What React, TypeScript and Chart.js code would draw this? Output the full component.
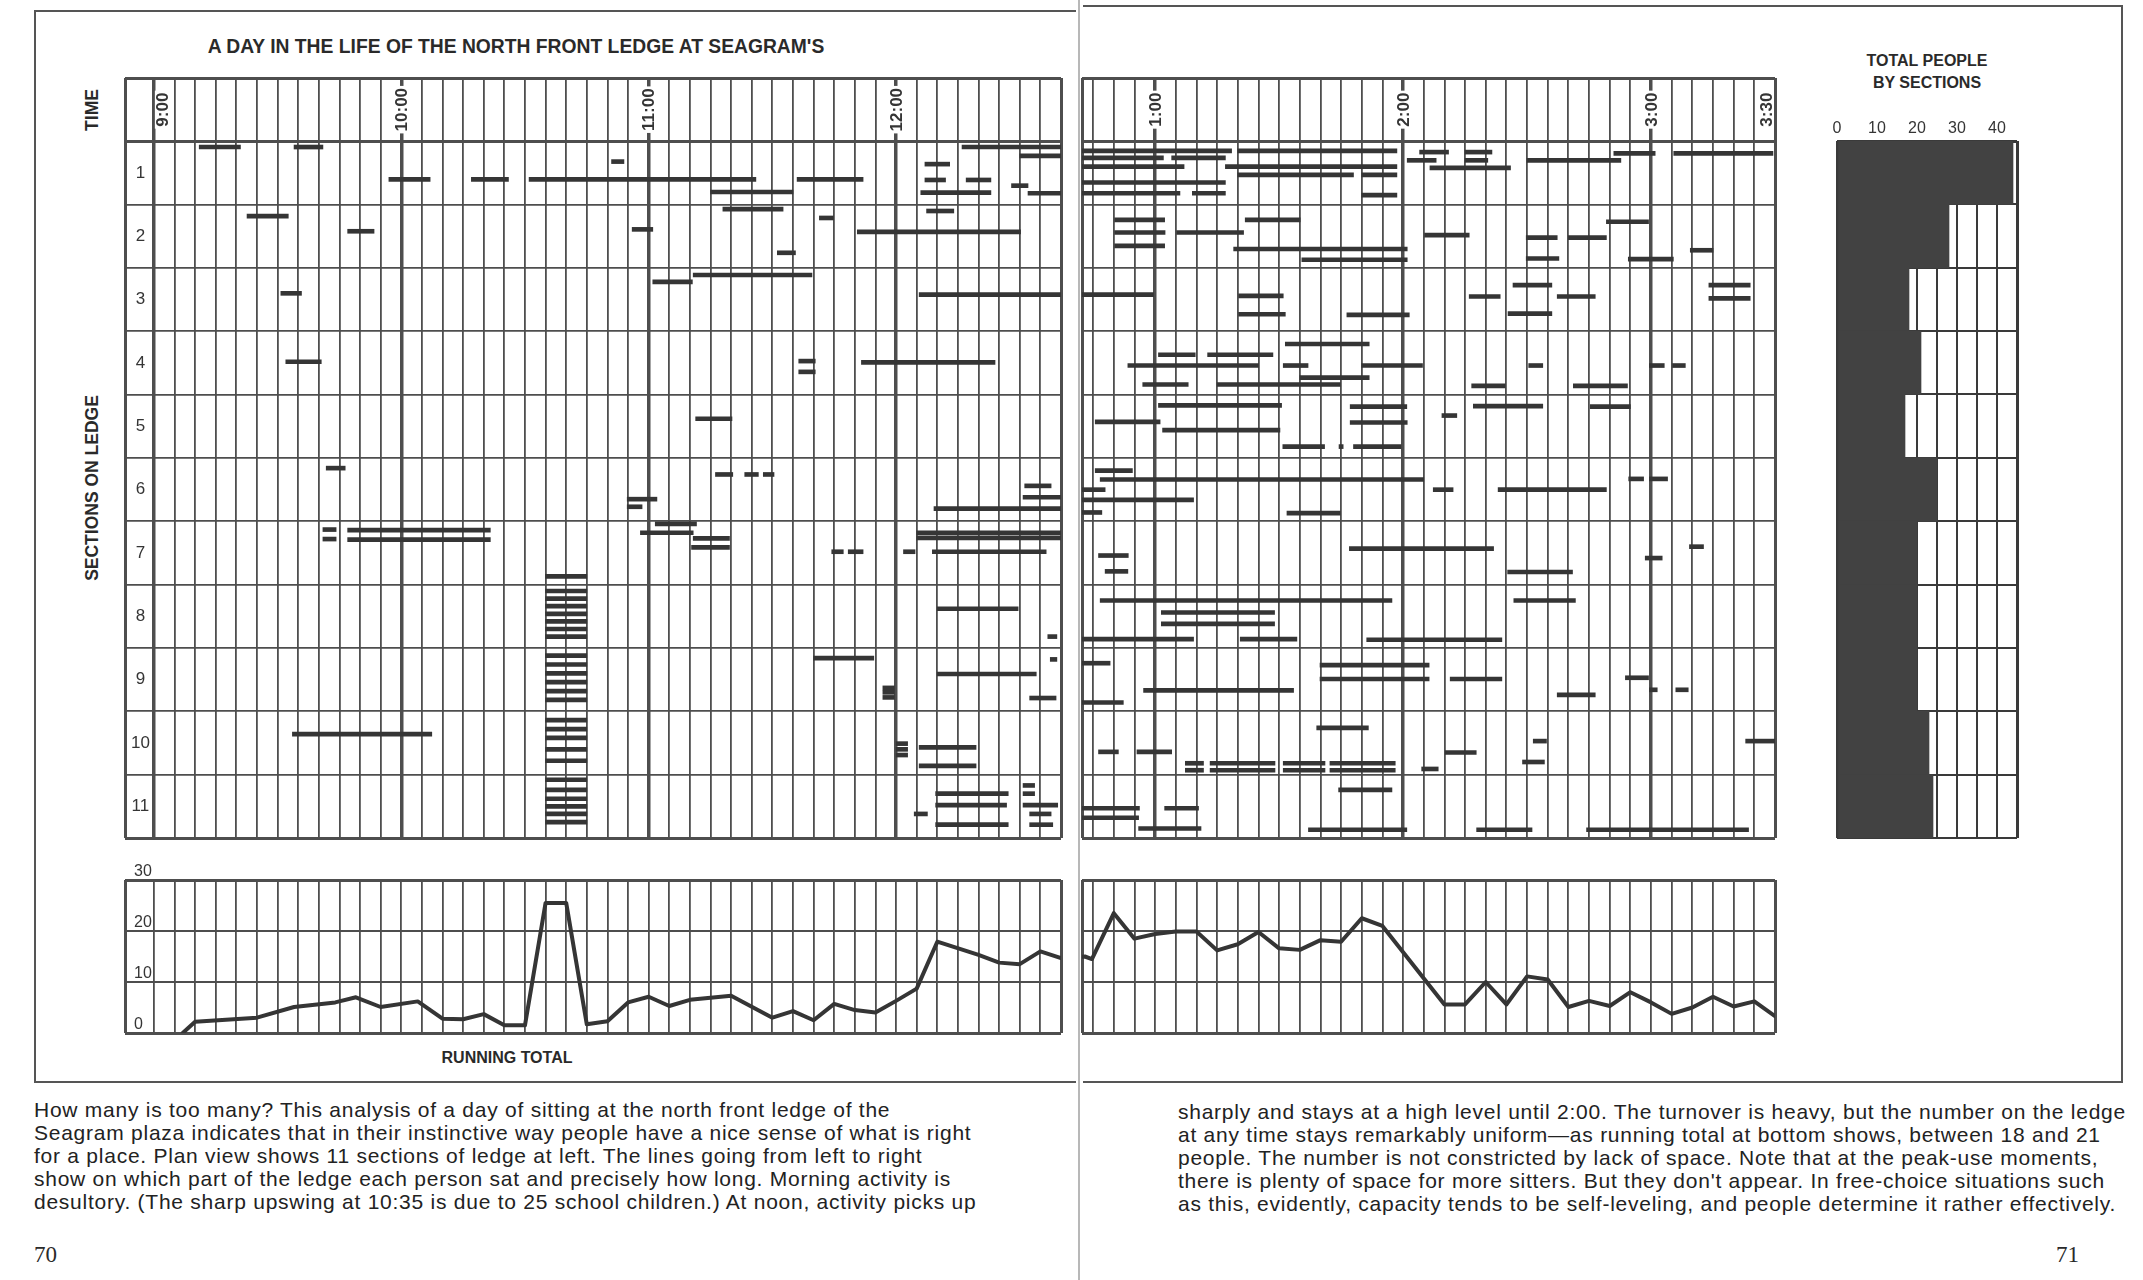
import React, { useEffect, useRef } from 'react';
import { Chart, registerables } from 'chart.js';

Chart.register(...registerables);

// ---------------- data ----------------
// times are minutes after 9:00 a.m.; lane = position of the sitter inside the section (0 top .. 1 bottom)
const hourValuesAM = [0, 60, 120, 180];
const hourLabelsAM = ['9:00', '10:00', '11:00', '12:00'];
const hourValuesPM = [240, 300, 360, 390];
const hourLabelsPM = ['1:00', '2:00', '3:00', '3:30'];
const sectionNames = ['1', '2', '3', '4', '5', '6', '7', '8', '9', '10', '11'];

// [start, end, lane]
const section1 = [
  [11, 21, 0.09], [34, 41, 0.09], [57, 67, 0.6], [77, 86, 0.6], [91, 146, 0.6], [111, 114, 0.32], [135, 155, 0.8],
  [156, 172, 0.6], [187, 193, 0.36], [187, 192, 0.61], [186, 203, 0.81], [197, 203, 0.61], [196, 220, 0.09],
  [208, 212, 0.7], [210, 220, 0.23], [212, 220, 0.82],
  [222, 258.5, 0.15], [260, 298.5, 0.15], [222, 242, 0.26], [244, 257, 0.26], [222, 247, 0.4], [257, 298.5, 0.4],
  [260, 288, 0.53], [290, 298.5, 0.53], [222, 257, 0.65], [222, 246, 0.82], [249, 257, 0.82], [290, 298.5, 0.85],
  [301, 308, 0.3], [304, 311, 0.17], [315, 321.5, 0.17], [315, 320.5, 0.3], [306.5, 326, 0.42], [330, 352.7, 0.3],
  [351, 361, 0.19], [365.5, 389.5, 0.19],
];
const section2 = [
  [22.6, 32.6, 0.18], [47, 53.4, 0.42], [116, 121, 0.39], [138, 152.6, 0.07], [151.2, 155.6, 0.76], [161.4, 164.8, 0.21],
  [170.6, 210.2, 0.43], [187.4, 194, 0.1],
  [230.2, 242.3, 0.24], [230.2, 242.4, 0.44], [230.2, 242.3, 0.65], [245.2, 261.4, 0.44], [261.8, 275.1, 0.24],
  [259, 301, 0.7], [275.5, 301, 0.87], [305.2, 316, 0.48], [329.8, 337.3, 0.52], [340, 349.2, 0.52],
  [349.2, 359.4, 0.27], [329.8, 337.7, 0.85], [354.5, 365.4, 0.86], [369.5, 375, 0.72],
];
const section3 = [
  [30.8, 35.8, 0.4], [121, 130.6, 0.22], [130.8, 159.6, 0.11], [185.6, 239.6, 0.42],
  [260.2, 271, 0.44], [260.2, 271.5, 0.73], [286.4, 301.5, 0.74], [316, 323.5, 0.45], [326.6, 336, 0.27],
  [337.3, 346.5, 0.45], [325.4, 336, 0.72], [374, 384, 0.27], [374, 384, 0.48],
];
const section4 = [
  [32, 40.6, 0.48], [156.4, 160.4, 0.47], [156.4, 160.4, 0.64], [171.6, 204, 0.49],
  [233.4, 265, 0.54], [237, 248, 0.84], [240.8, 249.7, 0.37], [252.7, 268.5, 0.37], [255, 284.8, 0.84],
  [271, 277, 0.54], [271.5, 291.8, 0.2], [275, 291.8, 0.73], [290, 304.7, 0.54], [316.6, 324.7, 0.86],
  [330.4, 333.8, 0.54], [341.2, 354.3, 0.86], [359.6, 363.2, 0.54], [365.2, 368.3, 0.54],
];
const section5 = [
  [131.4, 140.2, 0.38],
  [225.5, 241.2, 0.43], [240.8, 270.6, 0.17], [241.8, 270.2, 0.56], [270.9, 281, 0.82], [284.5, 285.5, 0.82],
  [287.2, 300.9, 0.19], [287.2, 301, 0.44], [288, 299.5, 0.82], [309.4, 313, 0.33], [317, 333.8, 0.18],
  [345.3, 355, 0.19],
];
const section6 = [
  [41.8, 46.4, 0.16], [114.8, 122, 0.65], [114.8, 118.4, 0.77], [136.2, 140.4, 0.26], [143.3, 146.6, 0.26],
  [147.8, 150.4, 0.26], [189.2, 220, 0.8], [210.8, 220, 0.62], [211.2, 217.6, 0.44],
  [222, 227.9, 0.5], [222, 249.3, 0.66], [222, 227.1, 0.86], [225.5, 234.5, 0.2], [226.7, 305, 0.34],
  [271.9, 284.8, 0.87], [307.3, 312.1, 0.5], [323, 349.2, 0.5], [354.6, 358.2, 0.33], [359.6, 364, 0.33],
];
const section7 = [
  [41, 44.2, 0.13], [41, 44.2, 0.28], [47, 81.6, 0.14], [47, 81.6, 0.29], [118, 130.8, 0.18], [121.6, 131.6, 0.04],
  [130.8, 139.6, 0.27], [130.4, 139.6, 0.41], [164.4, 167.2, 0.48], [168.4, 172, 0.48], [181.8, 184.6, 0.48],
  [185, 220, 0.18], [185, 220, 0.26], [188.8, 216.4, 0.48], [95, 105, 0.87],
  [226.3, 233.5, 0.54], [227.9, 233.4, 0.79], [287, 321.9, 0.43], [325.3, 341, 0.8], [358.6, 362.7, 0.58],
  [369.3, 372.7, 0.4],
];
const section8 = [
  [95, 105, 0.1], [95, 105, 0.22], [95, 105, 0.34], [95, 105, 0.46], [95, 105, 0.58], [95, 105, 0.7], [95, 105, 0.82],
  [190, 209.6, 0.38], [216.8, 219, 0.82],
  [222, 249.3, 0.86], [226.7, 297.3, 0.25], [241.5, 268.9, 0.44], [241.5, 268.9, 0.62], [260.6, 274.3, 0.86],
  [291.2, 323.9, 0.87], [326.8, 341.7, 0.25],
];
const section9 = [
  [95, 105, 0.12], [95, 105, 0.26], [95, 105, 0.4], [95, 105, 0.54], [95, 105, 0.68], [95, 105, 0.82],
  [160, 174.6, 0.16], [176.8, 179.6, 0.63], [176.8, 179.6, 0.7], [176.8, 179.6, 0.78], [190, 214, 0.41],
  [212.4, 218.8, 0.79], [217.4, 219, 0.18],
  [222, 229.1, 0.24], [222, 232.3, 0.86], [237.2, 273.5, 0.67], [279.9, 306.3, 0.27], [279.9, 306.3, 0.49],
  [311.4, 323.9, 0.49], [337.3, 346.5, 0.74], [353.8, 359.4, 0.47], [359.6, 361.5, 0.66], [366, 369, 0.66],
];
const section10 = [
  [33.6, 67.4, 0.36], [95, 105, 0.14], [95, 105, 0.28], [95, 105, 0.42], [95, 105, 0.6], [95, 105, 0.78],
  [180, 182.8, 0.51], [180, 182.8, 0.6], [180, 182.8, 0.69], [185.6, 199.4, 0.57], [185.6, 199.4, 0.86],
  [226.3, 231.1, 0.64], [235.6, 244, 0.64], [247.3, 251.7, 0.82], [247.3, 251.7, 0.93], [253.3, 269, 0.82],
  [253.3, 269, 0.93], [271, 281.1, 0.82], [271, 281.1, 0.93], [279.1, 291.6, 0.26], [282.3, 298.1, 0.82],
  [282.3, 298.1, 0.93], [304.5, 308.5, 0.91], [310.2, 317.7, 0.65], [328.9, 334.2, 0.8], [331.5, 334.7, 0.47],
  [382.9, 390, 0.47],
];
const section11 = [
  [95, 105, 0.08], [95, 105, 0.24], [95, 105, 0.38], [95, 105, 0.5], [95, 105, 0.62], [95, 105, 0.75],
  [184.4, 187.6, 0.62], [189.6, 207.2, 0.3], [189.6, 206.8, 0.48], [189.6, 207.2, 0.79], [210.8, 213.6, 0.17],
  [210.8, 213.6, 0.3], [210.8, 219.2, 0.48], [212.4, 217.6, 0.62], [212.4, 218, 0.79],
  [222, 236.2, 0.53], [222, 236, 0.68], [236, 251.1, 0.85], [242.3, 250.5, 0.53], [277.1, 300.9, 0.87],
  [284.4, 297.3, 0.24], [317.8, 331.2, 0.87], [344.4, 383.6, 0.87],
];

// running total (people on the ledge)
const totalTimes = [
  7, 10, 25, 34, 44, 49, 55, 64, 70, 75, 80, 85, 90, 95, 100, 105, 110, 115, 120, 125, 130, 140, 150, 155, 160,
  165, 170, 175, 180, 185, 190, 200, 205, 210, 215, 220,
  223, 224.7, 230, 235, 240, 245, 250, 255, 260, 265, 270, 275, 280, 285, 290, 295, 310, 315, 320, 325, 330,
  335, 340, 345, 350, 355, 360, 365, 370, 375, 380, 385, 390,
];
const totalValues = [
  0, 2.2, 3.0, 5.1, 6.0, 7.0, 5.1, 6.2, 2.8, 2.7, 3.7, 1.5, 1.5, 25.5, 25.5, 1.7, 2.3, 6.0, 7.1, 5.3, 6.5, 7.3,
  3.0, 4.3, 2.5, 5.7, 4.5, 4.0, 6.3, 8.7, 17.9, 15.3, 13.8, 13.5, 16, 14.7,
  15.0, 14.5, 23.5, 18.5, 19.4, 19.9, 19.9, 16.2, 17.4, 19.8, 16.6, 16.3, 18.2, 17.9, 22.5, 21.0, 5.6, 5.6, 10,
  5.6, 11.1, 10.5, 5.1, 6.3, 5.3, 8.0, 6.0, 3.75, 5.0, 7.1, 5.2, 6.2, 3.3,
];
const totalTickValues = [0, 10, 20, 30];

// total people by sections
const sectionTotals = [44, 28, 18, 21, 17, 25, 20, 20, 20, 23, 24];
const peopleTickValues = [0, 10, 20, 30, 40];

const leftParagraph = [
  'How many is too many? This analysis of a day of sitting at the north front ledge of the',
  'Seagram plaza indicates that in their instinctive way people have a nice sense of what is right',
  'for a place. Plan view shows 11 sections of ledge at left. The lines going from left to right',
  'show on which part of the ledge each person sat and precisely how long. Morning activity is',
  'desultory. (The sharp upswing at 10:35 is due to 25 school children.) At noon, activity picks up',
];
const rightParagraph = [
  'sharply and stays at a high level until 2:00. The turnover is heavy, but the number on the ledge',
  'at any time stays remarkably uniform\u2014as running total at bottom shows, between 18 and 21',
  'people. The number is not constricted by lack of space. Note that at the peak-use moments,',
  "there is plenty of space for more sitters. But they don't appear. In free-choice situations such",
  'as this, evidently, capacity tends to be self-leveling, and people determine it rather effectively.',
];

// ---------------- styling ----------------
const INK = '#353535';
const GRID = '#4e4e4e';
const SANS = '"Liberation Sans", Arial, Helvetica, sans-serif';

const sectionRows = [section1, section2, section3, section4, section5, section6, section7, section8, section9, section10, section11];
const ganttPoints = sectionRows.flatMap((rows, i) =>
  rows.map(([start, end, lane]) => ({ x: [start, end], y: i + 1 + lane }))
);
const rowBounds = [0, 1, 2, 3, 4, 5, 6, 7, 8, 9, 10, 11, 12];

function gridTicks(min: number, first: number, max: number) {
  const t = [min];
  for (let m = first; m < max; m += 5) t.push(m);
  t.push(max);
  return t;
}

const tv = (c: any) => (c && c.tick ? c.tick.value : NaN);
const flatX = (s: any) => { s.height = 0; s.paddingLeft = 0; s.paddingRight = 0; s.paddingTop = 0; s.paddingBottom = 0; };
const flatY = (s: any) => { s.width = 0; s.paddingLeft = 0; s.paddingRight = 0; s.paddingTop = 0; s.paddingBottom = 0; };

type Pad = { l: number; r: number; t: number; b: number };
type Box = { x: number; y: number; w: number; h: number };

function headerPlugin(values: number[], texts: string[], showSections: boolean) {
  return {
    id: 'ledgeHeader',
    afterDraw(chart: any) {
      const { ctx } = chart;
      const xs = chart.scales.x;
      const ys = chart.scales.y;
      const yMid = (ys.getPixelForValue(0) + ys.getPixelForValue(1)) / 2;
      ctx.save();
      ctx.font = `bold 17px ${SANS}`;
      ctx.textAlign = 'center';
      ctx.textBaseline = 'middle';
      values.forEach((v, i) => {
        const text = texts[i];
        const w = ctx.measureText(text).width;
        const h = 13;
        let px = xs.getPixelForValue(v);
        if (i === 0 && showSections) px += h / 2 + 2;
        if (v === xs.max) px -= h / 2 + 2;
        ctx.save();
        ctx.translate(px, yMid);
        ctx.rotate(-Math.PI / 2);
        ctx.fillStyle = '#ffffff';
        ctx.fillRect(-w / 2 - 2, -h / 2 - 1, w + 4, h + 2);
        ctx.fillStyle = INK;
        ctx.fillText(text, 0, 1);
        ctx.restore();
      });
      if (showSections) {
        ctx.font = `17px ${SANS}`;
        const cx = (xs.getPixelForValue(xs.min) + xs.getPixelForValue(0)) / 2;
        sectionNames.forEach((s, i) => {
          ctx.fillStyle = INK;
          ctx.fillText(s, cx + 1, ys.getPixelForValue(i + 1.5));
        });
      }
      ctx.restore();
    },
  };
}

function ganttConfig(min: number, first: number, max: number, hv: number[], hl: string[], showSections: boolean, pad: Pad) {
  const ticks = gridTicks(min, first, max);
  return {
    type: 'bar',
    data: {
      datasets: [
        { data: ganttPoints, backgroundColor: INK, borderWidth: 0, barThickness: 4, borderSkipped: false },
      ],
    },
    options: {
      indexAxis: 'y',
      responsive: false,
      animation: false,
      devicePixelRatio: 1,
      events: [],
      layout: { padding: { left: pad.l, right: pad.r, top: pad.t, bottom: pad.b } },
      plugins: { legend: { display: false }, tooltip: { enabled: false } },
      scales: {
        x: {
          type: 'linear', min, max, offset: false,
          afterBuildTicks: (s: any) => { s.ticks = ticks.map((v) => ({ value: v })); },
          afterFit: flatX,
          ticks: { display: false },
          border: { display: false },
          grid: {
            offset: false, drawTicks: false, color: GRID,
            lineWidth: (c: any) => {
              const v = tv(c);
              if (v === min || v === max) return 3;
              return v % 60 === 0 ? 3.5 : 1.8;
            },
          },
        },
        y: {
          type: 'linear', min: 0, max: 12, reverse: true, offset: false,
          afterBuildTicks: (s: any) => { s.ticks = rowBounds.map((v) => ({ value: v })); },
          afterFit: flatY,
          ticks: { display: false },
          border: { display: false },
          grid: {
            offset: false, drawTicks: false, color: GRID,
            lineWidth: (c: any) => {
              const v = tv(c);
              return v <= 1 || v === 12 ? 3 : 1.8;
            },
          },
        },
      },
    },
    plugins: [headerPlugin(hv, hl, showSections)],
  };
}

function totalConfig(min: number, first: number, max: number, showLabels: boolean, pad: Pad) {
  const ticks = gridTicks(min, first, max);
  return {
    type: 'line',
    data: {
      datasets: [
        {
          data: totalTimes.map((t, i) => ({ x: t, y: totalValues[i] })),
          borderColor: INK, borderWidth: 4, pointRadius: 0, tension: 0, fill: false,
          borderJoinStyle: 'round', borderCapStyle: 'round',
        },
      ],
    },
    options: {
      responsive: false,
      animation: false,
      devicePixelRatio: 1,
      events: [],
      layout: { padding: { left: pad.l, right: pad.r, top: pad.t, bottom: pad.b } },
      plugins: { legend: { display: false }, tooltip: { enabled: false } },
      scales: {
        x: {
          type: 'linear', min, max, offset: false,
          afterBuildTicks: (s: any) => { s.ticks = ticks.map((v) => ({ value: v })); },
          afterFit: flatX,
          ticks: { display: false },
          border: { display: false },
          grid: {
            offset: false, drawTicks: false, color: GRID,
            lineWidth: (c: any) => {
              const v = tv(c);
              return v === min || v === max ? 3 : 1.8;
            },
          },
        },
        y: {
          type: 'linear', min: 0, max: 30, offset: false,
          afterBuildTicks: (s: any) => { s.ticks = totalTickValues.map((v) => ({ value: v })); },
          afterFit: flatY,
          ticks: {
            display: showLabels, mirror: true, padding: 9, labelOffset: -8,
            font: { family: SANS, size: 16 }, color: INK,
            callback: (v: any) => String(v),
          },
          border: { display: false },
          grid: {
            offset: false, drawTicks: false, color: GRID,
            lineWidth: (c: any) => {
              const v = tv(c);
              return v === 0 || v === 30 ? 3 : 2;
            },
          },
        },
      },
    },
  };
}

function sectionsConfig(pad: Pad) {
  const xticks = [0, 5, 10, 15, 20, 25, 30, 35, 40, 45];
  return {
    type: 'bar',
    data: {
      labels: sectionNames,
      datasets: [
        { data: sectionTotals, backgroundColor: '#424242', borderWidth: 0, barPercentage: 1, categoryPercentage: 1 },
      ],
    },
    options: {
      indexAxis: 'y',
      responsive: false,
      animation: false,
      devicePixelRatio: 1,
      events: [],
      layout: { padding: { left: pad.l, right: pad.r, top: pad.t, bottom: pad.b } },
      plugins: { legend: { display: false }, tooltip: { enabled: false } },
      scales: {
        x: {
          type: 'linear', position: 'top', min: 0, max: 45, z: 1,
          afterBuildTicks: (s: any) => { s.ticks = xticks.map((v) => ({ value: v })); },
          afterFit: flatX,
          ticks: {
            autoSkip: false, maxRotation: 0, mirror: true, padding: -22,
            font: { family: SANS, size: 16 }, color: INK,
            callback: (v: any) => (peopleTickValues.includes(v) ? String(v) : ''),
          },
          border: { display: false },
          grid: {
            drawTicks: false, color: '#3a3a3a',
            lineWidth: (c: any) => {
              const v = tv(c);
              return v === 0 || v === 45 ? 3 : 2;
            },
          },
        },
        y: {
          type: 'category', z: 1,
          afterFit: flatY,
          ticks: { display: false },
          border: { display: false },
          grid: {
            offset: true, drawTicks: false, color: '#3a3a3a',
            lineWidth: (c: any) => (c && (c.index === 0 || c.index >= 11) ? 3 : 2),
          },
        },
      },
    },
  };
}

function ChartCanvas({ box, pad, make }: { box: Box; pad: Pad; make: () => any }) {
  const ref = useRef<HTMLCanvasElement | null>(null);
  useEffect(() => {
    let chart: any = null;
    try {
      chart = new Chart(ref.current as HTMLCanvasElement, make());
    } catch (e) {
      console.error(e);
    }
    return () => { if (chart) chart.destroy(); };
  }, []);
  const w = box.w + pad.l + pad.r;
  const h = box.h + pad.t + pad.b;
  return (
    <canvas
      ref={ref}
      width={w}
      height={h}
      style={{ position: 'absolute', left: box.x - pad.l, top: box.y - pad.t, width: w, height: h }}
    />
  );
}

const abs = (s: React.CSSProperties): React.CSSProperties => ({ position: 'absolute', ...s });

export default function App() {
  const padG: Pad = { l: 4, r: 14, t: 4, b: 4 };
  const padT: Pad = { l: 4, r: 4, t: 22, b: 4 };
  const padS: Pad = { l: 14, r: 14, t: 34, b: 4 };
  const ganttAM: Box = { x: 125, y: 78, w: 936, h: 760 };
  const ganttPM: Box = { x: 1082, y: 78, w: 693, h: 760 };
  const totalAM: Box = { x: 125, y: 880, w: 936, h: 153 };
  const totalPM: Box = { x: 1082, y: 880, w: 693, h: 153 };
  const bySection: Box = { x: 1837, y: 141, w: 180, h: 697 };

  const line = (l: number, t: number, w: number, h: number, bg = '#555') => (
    <div style={abs({ left: l, top: t, width: w, height: h, background: bg })} />
  );

  const paraStyle: React.CSSProperties = {
    fontFamily: SANS, fontSize: 21, letterSpacing: 0.75, color: '#222', whiteSpace: 'nowrap', lineHeight: '23px',
  };

  return (
    <div style={abs({ left: 0, top: 0, width: 2143, height: 1280, background: '#fff', overflow: 'hidden' })}>
      {/* page frames */}
      {line(34, 10, 1042, 2)}
      {line(34, 10, 2, 1073)}
      {line(34, 1081, 1042, 2)}
      {line(1083, 5, 1040, 2)}
      {line(2121, 5, 2, 1078)}
      {line(1083, 1081, 1040, 2)}
      {line(1078, 0, 2, 1280, '#b8b8b8')}

      <div style={abs({ left: 200, top: 36, width: 632, textAlign: 'center', fontFamily: SANS, fontWeight: 'bold', fontSize: 19.3, color: '#2a2a2a', whiteSpace: 'nowrap' })}>
        A DAY IN THE LIFE OF THE NORTH FRONT LEDGE AT SEAGRAM'S
      </div>
      <div style={abs({ left: 92, top: 110, transform: 'translate(-50%, -50%) rotate(-90deg)', fontFamily: SANS, fontWeight: 'bold', fontSize: 17.5, color: '#2a2a2a', whiteSpace: 'nowrap' })}>
        TIME
      </div>
      <div style={abs({ left: 92, top: 488, transform: 'translate(-50%, -50%) rotate(-90deg)', fontFamily: SANS, fontWeight: 'bold', fontSize: 17.5, color: '#2a2a2a', whiteSpace: 'nowrap' })}>
        SECTIONS ON LEDGE
      </div>
      <div style={abs({ left: 507, top: 1058, transform: 'translate(-50%, -50%)', fontFamily: SANS, fontWeight: 'bold', fontSize: 16, color: '#2a2a2a', whiteSpace: 'nowrap' })}>
        RUNNING TOTAL
      </div>
      <div style={abs({ left: 1927, top: 72, transform: 'translate(-50%, -50%)', fontFamily: SANS, fontWeight: 'bold', fontSize: 16, lineHeight: '22px', color: '#2a2a2a', whiteSpace: 'nowrap', textAlign: 'center' })}>
        TOTAL PEOPLE<br />BY SECTIONS
      </div>

      <ChartCanvas box={ganttAM} pad={padG} make={() => ganttConfig(-7, 0, 220, hourValuesAM, hourLabelsAM, true, padG)} />
      <ChartCanvas box={ganttPM} pad={padG} make={() => ganttConfig(222.3, 225, 390, hourValuesPM, hourLabelsPM, false, padG)} />
      <ChartCanvas box={totalAM} pad={padT} make={() => totalConfig(-7, 0, 220, true, padT)} />
      <ChartCanvas box={totalPM} pad={padT} make={() => totalConfig(222.3, 225, 390, false, padT)} />
      <ChartCanvas box={bySection} pad={padS} make={() => sectionsConfig(padS)} />

      {leftParagraph.map((t, i) => (
        <div key={'l' + i} style={abs({ left: 34, top: 1098 + i * 23, ...paraStyle })}>{t}</div>
      ))}
      {rightParagraph.map((t, i) => (
        <div key={'r' + i} style={abs({ left: 1178, top: 1100 + i * 23, ...paraStyle })}>{t}</div>
      ))}
      <div style={abs({ left: 34, top: 1242, fontFamily: '"Liberation Serif", "Times New Roman", serif', fontSize: 23, color: '#2a2a2a' })}>70</div>
      <div style={abs({ left: 2056, top: 1242, fontFamily: '"Liberation Serif", "Times New Roman", serif', fontSize: 23, color: '#2a2a2a' })}>71</div>
    </div>
  );
}
